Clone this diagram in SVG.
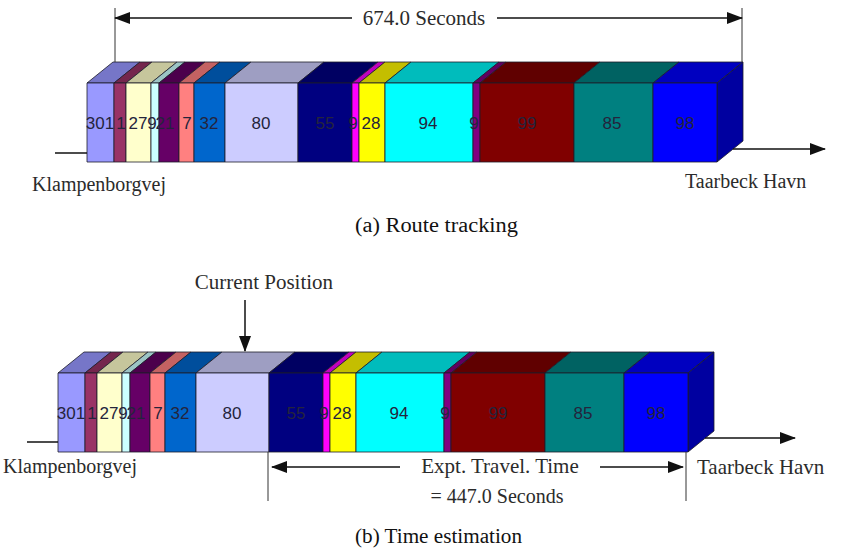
<svg xmlns="http://www.w3.org/2000/svg" width="854" height="552" viewBox="0 0 854 552">
  <style>
    .edge { stroke: #1c1c2a; stroke-width: 0.8; stroke-linejoin: round; }
    .lbl { font-family: "Liberation Sans", Arial, sans-serif; font-size: 17px; fill: #24243c; text-anchor: middle; }
    .ann { font-family: "Liberation Serif", "Times New Roman", serif; font-size: 20px; fill: #2b2b2b; }
    .big { font-size: 21px; }
    .mid { text-anchor: middle; }
    .cap { font-family: "Liberation Serif", "Times New Roman", serif; font-size: 20px; fill: #111; }
    .ln { stroke: #111; stroke-width: 1.5; fill: none; }
    .thin { stroke: #333; stroke-width: 1; fill: none; }
    .c1f{fill:#9999FF}.c1t{fill:#7676C8}
    .c2f{fill:#993366}.c2t{fill:#74264D}
    .c3f{fill:#FFFFCC}.c3t{fill:#C6C69C}
    .c4f{fill:#CCFFFF}.c4t{fill:#9CC4C4}
    .c5f{fill:#660066}.c5t{fill:#4C004C}
    .c6f{fill:#FF8080}.c6t{fill:#C46262}
    .c7f{fill:#0066CC}.c7t{fill:#004E9C}
    .c8f{fill:#CCCCFF}.c8t{fill:#9E9EC2}
    .c9f{fill:#000080}.c9t{fill:#000062}
    .c10f{fill:#FF00FF}.c10t{fill:#C000C0}
    .c11f{fill:#FFFF00}.c11t{fill:#C4BE00}
    .c12f{fill:#00FFFF}.c12t{fill:#00BCBC}
    .c13f{fill:#800080}.c13t{fill:#600060}
    .c14f{fill:#800000}.c14t{fill:#600000}
    .c15f{fill:#008080}.c15t{fill:#006262}
    .c16f{fill:#0000FF}.c16t{fill:#0000C0}.c16s{fill:#0000A0}
  </style>
  <defs>
    <marker id="ah" viewBox="0 0 16 12" refX="15" refY="6" markerWidth="16" markerHeight="12" markerUnits="userSpaceOnUse" orient="auto-start-reverse">
      <path d="M0,0 L16,6 L0,12 Z" fill="#111"/>
    </marker>
    <!-- 3-D stacked bar: front faces y 83..162, depth offset (+26,-21) -->
    <g id="bar">
      <g id="seg-301"><polygon class="c1t edge" points="87,83 114,83 140,62 113,62"/><rect class="c1f edge" x="87" y="83" width="27" height="79"/><text class="lbl" x="100" y="129">301</text></g>
      <g id="seg-1"><polygon class="c2t edge" points="114,83 126,83 152,62 140,62"/><rect class="c2f edge" x="114" y="83" width="12" height="79"/><text class="lbl" x="121" y="129">1</text></g>
      <g id="seg-27"><polygon class="c3t edge" points="126,83 151,83 177,62 152,62"/><rect class="c3f edge" x="126" y="83" width="25" height="79"/><text class="lbl" x="138" y="129">27</text></g>
      <g id="seg-9a"><polygon class="c4t edge" points="151,83 159,83 185,62 177,62"/><rect class="c4f edge" x="151" y="83" width="8" height="79"/><text class="lbl" x="152" y="129">9</text></g>
      <g id="seg-21"><polygon class="c5t edge" points="159,83 179,83 205,62 185,62"/><rect class="c5f edge" x="159" y="83" width="20" height="79"/><text class="lbl" x="165" y="129">21</text></g>
      <g id="seg-7"><polygon class="c6t edge" points="179,83 194,83 220,62 205,62"/><rect class="c6f edge" x="179" y="83" width="15" height="79"/><text class="lbl" x="187" y="129">7</text></g>
      <g id="seg-32"><polygon class="c7t edge" points="194,83 225,83 251,62 220,62"/><rect class="c7f edge" x="194" y="83" width="31" height="79"/><text class="lbl" x="209" y="129">32</text></g>
      <g id="seg-80"><polygon class="c8t edge" points="225,83 298,83 324,62 251,62"/><rect class="c8f edge" x="225" y="83" width="73" height="79"/><text class="lbl" x="261" y="129">80</text></g>
      <g id="seg-55"><polygon class="c9t edge" points="298,83 352,83 378,62 324,62"/><rect class="c9f edge" x="298" y="83" width="54" height="79"/><text class="lbl" x="325" y="129">55</text></g>
      <g id="seg-9b"><polygon class="c10t edge" points="352,83 359,83 385,62 378,62"/><rect class="c10f edge" x="352" y="83" width="7" height="79"/><text class="lbl" x="353" y="129">9</text></g>
      <g id="seg-28"><polygon class="c11t edge" points="359,83 385,83 411,62 385,62"/><rect class="c11f edge" x="359" y="83" width="26" height="79"/><text class="lbl" x="371" y="129">28</text></g>
      <g id="seg-94"><polygon class="c12t edge" points="385,83 473,83 499,62 411,62"/><rect class="c12f edge" x="385" y="83" width="88" height="79"/><text class="lbl" x="428" y="129">94</text></g>
      <g id="seg-9c"><polygon class="c13t edge" points="473,83 480,83 506,62 499,62"/><rect class="c13f edge" x="473" y="83" width="7" height="79"/><text class="lbl" x="474" y="129">9</text></g>
      <g id="seg-99"><polygon class="c14t edge" points="480,83 574,83 600,62 506,62"/><rect class="c14f edge" x="480" y="83" width="94" height="79"/><text class="lbl" x="527" y="129">99</text></g>
      <g id="seg-85"><polygon class="c15t edge" points="574,83 653,83 679,62 600,62"/><rect class="c15f edge" x="574" y="83" width="79" height="79"/><text class="lbl" x="612" y="129">85</text></g>
      <g id="seg-98"><polygon class="c16t edge" points="653,83 717,83 743,62 679,62"/><polygon class="c16s edge" points="717,83 743,62 743,141 717,162"/><rect class="c16f edge" x="653" y="83" width="64" height="79"/><text class="lbl" x="685" y="129">98</text></g>
    </g>
  </defs>

  <!-- (a) route tracking -->
  <g id="route-bar"><use href="#bar"/></g>
  <g id="route-annotations">
    <line class="thin" x1="115" y1="8" x2="115" y2="62"/>
    <line class="thin" x1="742" y1="8" x2="742" y2="62"/>
    <text class="ann big mid" x="424" y="25">674.0 Seconds</text>
    <text class="ann" x="32" y="191">Klampenborgvej</text>
    <text class="ann" x="685" y="188">Taarbeck Havn</text>
  </g>
  <g id="route-connectors">
    <line class="ln" x1="352" y1="18" x2="115" y2="18" marker-end="url(#ah)"/>
    <line class="ln" x1="497" y1="18" x2="742" y2="18" marker-end="url(#ah)"/>
    <line class="ln" x1="55" y1="153" x2="87" y2="153"/>
    <line class="ln" x1="733" y1="149" x2="825" y2="149" marker-end="url(#ah)"/>
  </g>
  <text class="cap" x="355" y="232" textLength="163" lengthAdjust="spacingAndGlyphs">(a) Route tracking</text>

  <!-- (b) time estimation -->
  <g id="estimate-bar"><use href="#bar" transform="translate(-29,290)"/></g>
  <g id="estimate-annotations">
    <text class="ann big mid" x="264" y="289">Current Position</text>
    <line class="thin" x1="268" y1="452" x2="268" y2="501"/>
    <line class="thin" x1="686" y1="452" x2="686" y2="501"/>
    <text class="ann big mid" x="500" y="473">Expt. Travel. Time</text>
    <text class="ann mid" x="497" y="503">= 447.0 Seconds</text>
    <text class="ann" x="3" y="473">Klampenborgvej</text>
    <text class="ann big" x="697" y="474">Taarbeck Havn</text>
  </g>
  <g id="estimate-connectors">
    <line class="ln" x1="245" y1="300" x2="245" y2="351" marker-end="url(#ah)"/>
    <line class="ln" x1="400" y1="467" x2="272" y2="467" marker-end="url(#ah)"/>
    <line class="ln" x1="600" y1="467" x2="683" y2="467" marker-end="url(#ah)"/>
    <line class="ln" x1="27" y1="442" x2="58" y2="442"/>
    <line class="ln" x1="705" y1="438" x2="795" y2="438" marker-end="url(#ah)"/>
  </g>
  <text class="cap" x="355" y="543" textLength="167" lengthAdjust="spacingAndGlyphs">(b) Time estimation</text>
</svg>
